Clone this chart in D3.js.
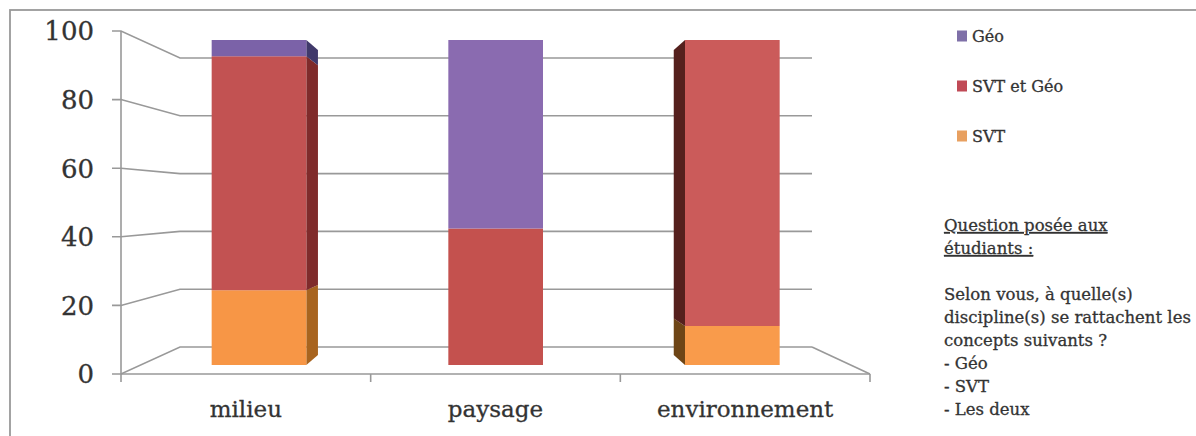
<!DOCTYPE html>
<html>
<head>
<meta charset="utf-8">
<script src="https://cdn.jsdelivr.net/npm/d3@7"></script>
<style>
  html, body { margin: 0; padding: 0; background: #fff; }
  svg { display: block; }
  text { font-family: "DejaVu Serif", serif; fill: #333; stroke: #333; stroke-width: 0.3px; }
</style>
</head>
<body>
<svg id="chart" width="1196" height="436"></svg>
<script>
// values (stack order: bottom to top)
const categories = ["milieu", "paysage", "environnement"];
const seriesNames = ["SVT", "SVT et Géo", "Géo"];
const svt = [23, 0, 12];
const svtGeo = [72, 42, 88];
const geo = [5, 58, 0];
const yTicks = [0, 20, 40, 60, 80, 100];
const legendNames = ["Géo", "SVT et Géo", "SVT"];
const noteTitle = ["Question posée aux", "étudiants :"];
const noteLines = ["Selon vous, à quelle(s)", "discipline(s) se rattachent les", "concepts suivants ?", "- Géo", "- SVT", "- Les deux"];

// one shade per category, the source picture is not uniform
const colors = {
  "SVT": ["#f79646", "#f79646", "#f99b4b"],
  "SVT et Géo": ["#c25252", "#c4514e", "#cb5b5a"],
  "Géo": ["#7b62a8", "#8a6bb0", "#8a6bb0"]
};
const sideColors = {
  "SVT": ["#a8641f", "#6e4516"],
  "SVT et Géo": ["#7f2b2b", "#55201d"],
  "Géo": ["#40396b", "#40396b"]
};
const legendColors = { "Géo": "#7f70a8", "SVT et Géo": "#c04a56", "SVT": "#e8a060" };
const gridColor = "#999";

const svg = d3.select("#chart");

// frame, the bottom and right sides are cut off by the picture
svg.append("rect").attr("x", 10).attr("y", 10).attr("width", 1200).attr("height", 440)
  .attr("fill", "none").attr("stroke", "#999").attr("stroke-width", 1.8);

// fake 3d: d=0 is the front of the floor, d=1 the back wall
const frontY = d3.scaleLinear().domain([0, 100]).range([374, 31]);
const backY = d3.scaleLinear().domain([0, 100]).range([347, 58]);
const yAt = (v, d) => frontY(v) + (backY(v) - frontY(v)) * d;

const band = d3.scaleBand().domain(categories).range([0, 1]).paddingInner(0.6).paddingOuter(0.3);
const xLeft = d3.scaleLinear().domain([0, 1]).range([121, 180]);
const xRight = d3.scaleLinear().domain([0, 1]).range([870, 812]);
const xAt = (t, d) => xLeft(d) + (xRight(d) - xLeft(d)) * t;

const barFront = 1 / 3, barBack = 0.7;

// walls
const grid = svg.append("g").attr("fill", "none").attr("stroke", gridColor).attr("stroke-width", 1.6);
yTicks.forEach(v => {
  grid.append("path").attr("d", d3.line()([
    [112, frontY(v)], [xLeft(0), frontY(v)], [xLeft(1), backY(v)], [xRight(1), backY(v)]
  ]));
});
grid.append("path").attr("d", d3.line()([[xRight(1), backY(0)], [xRight(0), frontY(0)]]));
grid.append("path").attr("d", d3.line()([[xLeft(0), frontY(0)], [xRight(0), frontY(0)]]));
grid.append("path").attr("d", d3.line()([[xLeft(0), frontY(100)], [xLeft(0), frontY(0)]]));
[0, 1, 2, 3].forEach(i => {
  const x = xAt(i / 3, 0);
  grid.append("path").attr("d", d3.line()([[x, frontY(0)], [x, 382]]));
});

// bars
const stack = d3.stack().keys(seriesNames).value((d, key) => d[key]);
const rows = categories.map((c, i) => ({ cat: c, "SVT": svt[i], "SVT et Géo": svtGeo[i], "Géo": geo[i] }));
const layers = stack(rows);
const bars = svg.append("g");

layers.forEach(layer => {
  const name = layer.key;
  layer.forEach((seg, i) => {
    const v0 = seg[0], v1 = seg[1];
    if (v1 === v0) return;
    const t0 = band(categories[i]), t1 = t0 + band.bandwidth();
    // side face, only seen on the bars away from the centre
    if (i !== 1) {
      const t = i === 0 ? t1 : t0;
      bars.append("path")
        .attr("d", d3.line()([
          [xAt(t, barFront), yAt(v0, barFront)],
          [xAt(t, barBack), yAt(v0, barBack)],
          [xAt(t, barBack), yAt(v1, barBack)],
          [xAt(t, barFront), yAt(v1, barFront)]
        ]) + "Z")
        .attr("fill", sideColors[name][i === 0 ? 0 : 1]);
    }
    bars.append("rect")
      .attr("x", xAt(t0, barFront))
      .attr("y", yAt(v1, barFront))
      .attr("width", xAt(t1, barFront) - xAt(t0, barFront))
      .attr("height", yAt(v0, barFront) - yAt(v1, barFront))
      .attr("fill", colors[name][i]);
  });
});

// axis labels
svg.append("g").selectAll("text").data(yTicks).enter().append("text")
  .attr("x", 94).attr("y", d => frontY(d)).attr("dy", "0.36em")
  .attr("text-anchor", "end").style("font-size", "26px").text(d => d);

svg.append("g").selectAll("text").data(categories).enter().append("text")
  .attr("x", (d, i) => xAt((i + 0.5) / 3, 0))
  .attr("y", 417).attr("text-anchor", "middle")
  .style("font-size", "23px").text(d => d);

// legend
const legend = svg.append("g").selectAll("g").data(legendNames).enter().append("g")
  .attr("transform", (d, i) => "translate(957," + (36 + i * 50) + ")");
legend.append("rect").attr("y", -5.5).attr("width", 10).attr("height", 11).attr("fill", d => legendColors[d]);
legend.append("text").attr("x", 15).attr("dy", "0.36em").style("font-size", "16px").text(d => d);

// note
svg.append("g").selectAll("text").data(noteTitle).enter().append("text")
  .attr("x", 944).attr("y", (d, i) => 231 + i * 23)
  .attr("text-decoration", "underline").style("font-size", "16.5px").text(d => d);
svg.append("g").selectAll("text").data(noteLines).enter().append("text")
  .attr("x", 944).attr("y", (d, i) => 300 + i * 23)
  .style("font-size", "16.5px").text(d => d);
</script>
</body>
</html>
